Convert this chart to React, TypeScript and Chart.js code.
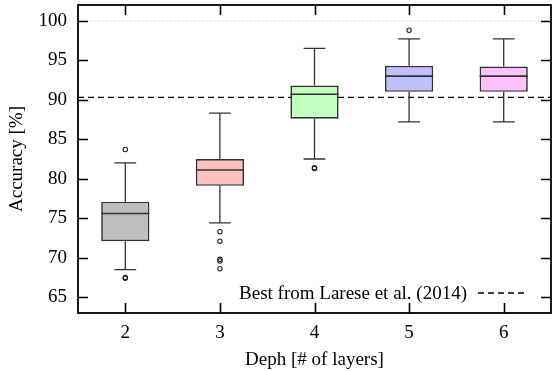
import React, { useEffect, useRef } from "react";
import { Chart, registerables } from "chart.js";

Chart.register(...registerables);

const CATEGORIES = [2, 3, 4, 5, 6];
const Q1 = [72.1, 79.1, 87.6, 91.0, 91.0];
const MEDIAN = [75.6, 81.1, 90.7, 93.0, 93.0];
const Q3 = [77.1, 82.5, 91.8, 94.3, 94.2];
const WHISKER_LOW = [68.5, 74.4, 82.5, 87.2, 87.2];
const WHISKER_HIGH = [82.0, 88.3, 96.5, 97.7, 97.7];
const OUTLIER_X = [2, 2, 2, 3, 3, 3, 3, 3, 4, 4, 5];
const OUTLIER_Y = [83.7, 67.5, 67.4, 73.3, 72.1, 69.8, 69.6, 68.6, 81.4, 81.3, 98.8];
const BASELINE = 90.3;
const TOP_REF = 100;
const X_TICKS = [2, 3, 4, 5, 6];
const Y_TICKS = [65, 70, 75, 80, 85, 90, 95, 100];
const BOX_COLORS = ["#bebebe", "#ffc0c0", "#c0ffc0", "#c0c0ff", "#ffc0ff"];
const LEGEND_LABEL = "Best from Larese et al. (2014)";
const X_TITLE = "Deph [# of layers]";
const Y_TITLE = "Accuracy [%]";

const FONT = "'Liberation Serif', 'DejaVu Serif', serif";
const FS = 19;

const boxPlugin = {
  id: "boxDecor",
  afterDatasetsDraw(chart: any) {
    const ctx = chart.ctx;
    const xs = chart.scales.x;
    const ys = chart.scales.y;
    const meta = chart.getDatasetMeta(2);
    ctx.save();
    CATEGORIES.forEach((c, i) => {
      const bar = meta.data[i];
      const half = bar ? bar.width / 2 : 24;
      const cx = xs.getPixelForValue(c);
      const capHalf = xs.getPixelForValue(c + 0.115) - cx;
      const yq1 = ys.getPixelForValue(Q1[i]);
      const yq3 = ys.getPixelForValue(Q3[i]);
      const ylo = ys.getPixelForValue(WHISKER_LOW[i]);
      const yhi = ys.getPixelForValue(WHISKER_HIGH[i]);
      const ym = ys.getPixelForValue(MEDIAN[i]);
      ctx.strokeStyle = "#333";
      ctx.lineWidth = 1.3;
      ctx.setLineDash([]);
      ctx.beginPath();
      ctx.moveTo(cx, yq3);
      ctx.lineTo(cx, yhi);
      ctx.moveTo(cx - capHalf, yhi);
      ctx.lineTo(cx + capHalf, yhi);
      ctx.moveTo(cx, yq1);
      ctx.lineTo(cx, ylo);
      ctx.moveTo(cx - capHalf, ylo);
      ctx.lineTo(cx + capHalf, ylo);
      ctx.stroke();
      ctx.lineWidth = 1.6;
      ctx.beginPath();
      ctx.moveTo(cx - half, ym);
      ctx.lineTo(cx + half, ym);
      ctx.stroke();
    });
    ctx.restore();
  },
  afterDraw(chart: any) {
    const ctx = chart.ctx;
    const xs = chart.scales.x;
    const ys = chart.scales.y;
    const a = chart.chartArea;
    ctx.save();
    ctx.strokeStyle = "#000";
    ctx.lineWidth = 1.8;
    ctx.setLineDash([]);
    ctx.strokeRect(a.left, a.top, a.right - a.left, a.bottom - a.top);
    const tl = 10;
    ctx.lineWidth = 1.6;
    ctx.beginPath();
    xs.ticks.forEach((t: any) => {
      const px = Math.round(xs.getPixelForValue(t.value)) + 0.5;
      ctx.moveTo(px, a.bottom);
      ctx.lineTo(px, a.bottom - tl);
      ctx.moveTo(px, a.top);
      ctx.lineTo(px, a.top + tl);
    });
    ys.ticks.forEach((t: any) => {
      const py = Math.round(ys.getPixelForValue(t.value)) + 0.5;
      ctx.moveTo(a.left, py);
      ctx.lineTo(a.left + tl, py);
      ctx.moveTo(a.right, py);
      ctx.lineTo(a.right - tl, py);
    });
    ctx.stroke();
    // legend
    const ly = a.bottom - 20;
    ctx.font = FS + "px " + FONT;
    ctx.fillStyle = "#000";
    ctx.textAlign = "right";
    ctx.textBaseline = "middle";
    ctx.fillText(LEGEND_LABEL, a.right - 84, ly + 1);
    ctx.strokeStyle = "#000";
    ctx.lineWidth = 1.3;
    ctx.setLineDash([6, 4]);
    ctx.beginPath();
    ctx.moveTo(a.right - 73, ly);
    ctx.lineTo(a.right - 23, ly);
    ctx.stroke();
    ctx.restore();
  },
};

export default function App() {
  const ref = useRef<HTMLCanvasElement>(null);
  useEffect(() => {
    if (!ref.current) return;
    const chart = new Chart(ref.current, {
      type: "bar",
      data: {
        datasets: [
          {
            type: "line",
            label: "ref100",
            data: [
              { x: 1.5, y: TOP_REF },
              { x: 6.5, y: TOP_REF },
            ],
            borderColor: "#b0b0b0",
            borderWidth: 1,
            borderDash: [1, 3],
            pointRadius: 0,
            order: 4,
          } as any,
          {
            type: "line",
            label: LEGEND_LABEL,
            data: [
              { x: 1.5, y: BASELINE },
              { x: 6.5, y: BASELINE },
            ],
            borderColor: "#000",
            borderWidth: 1.3,
            borderDash: [6, 4],
            pointRadius: 0,
            order: 3,
          } as any,
          {
            type: "bar",
            label: "boxes",
            data: CATEGORIES.map((c, i) => ({ x: c, y: [Q1[i], Q3[i]] })) as any,
            backgroundColor: BOX_COLORS,
            borderColor: "#333",
            borderWidth: 1.7,
            borderSkipped: false,
            categoryPercentage: 1,
            barPercentage: 0.51,
            order: 2,
          } as any,
          {
            type: "scatter",
            label: "outliers",
            data: OUTLIER_X.map((x, i) => ({ x, y: OUTLIER_Y[i] })),
            pointStyle: "circle",
            pointRadius: 2.2,
            borderColor: "#222",
            borderWidth: 1.1,
            backgroundColor: "rgba(255,255,255,0)",
            order: 1,
          } as any,
        ],
      },
      options: {
        animation: false,
        responsive: true,
        maintainAspectRatio: false,
        layout: { autoPadding: false, padding: { top: 5, right: 2, left: 0, bottom: 0 } },
        plugins: {
          legend: { display: false },
          tooltip: { enabled: false },
        },
        scales: {
          x: {
            type: "linear",
            min: 1.5,
            max: 6.5,
            offset: false,
            grid: { display: false, drawTicks: false },
            border: { display: false },
            afterBuildTicks: (s: any) => {
              s.ticks = X_TICKS.map((v) => ({ value: v }));
            },
            afterFit: (s: any) => {
              s.height = 58;
              s.paddingLeft = 0;
              s.paddingRight = 0;
            },
            ticks: {
              padding: 9,
              color: "#000",
              font: { family: FONT, size: FS },
              callback: (v: any) => String(v),
            },
            title: {
              display: true,
              text: X_TITLE,
              color: "#000",
              font: { family: FONT, size: FS },
              padding: { top: 0, bottom: 0 },
            },
          },
          y: {
            type: "linear",
            min: 63,
            max: 102,
            grid: { display: false, drawTicks: false },
            border: { display: false },
            afterBuildTicks: (s: any) => {
              s.ticks = Y_TICKS.map((v) => ({ value: v }));
            },
            afterFit: (s: any) => {
              s.width = 78;
              s.paddingTop = 0;
              s.paddingBottom = 0;
            },
            ticks: {
              padding: 11,
              color: "#000",
              font: { family: FONT, size: FS },
              callback: (v: any) => String(v),
            },
            title: {
              display: true,
              text: Y_TITLE,
              color: "#000",
              font: { family: FONT, size: FS },
              padding: { top: 6, bottom: 0 },
            },
          },
        },
      },
      plugins: [boxPlugin],
    });
    return () => chart.destroy();
  }, []);
  return (
    <div style={{ position: "absolute", left: 0, top: 0, width: 553, height: 371 }}>
      <canvas ref={ref} />
    </div>
  );
}
